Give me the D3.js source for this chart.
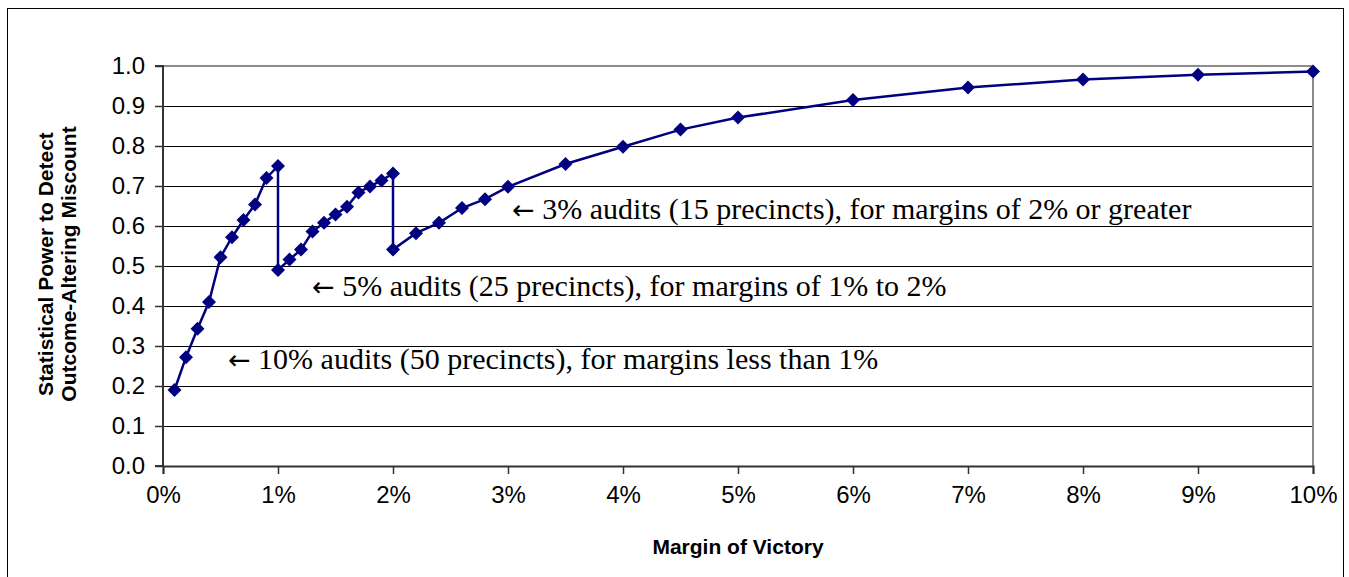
<!DOCTYPE html>
<html>
<head>
<meta charset="utf-8">
<script src="https://cdn.jsdelivr.net/npm/d3@7"></script>
<style>
	body { margin: 0; background: #fff; }
	svg { display: block; }
</style>
</head>
<body>
<div id="chart"></div>
<script>
// margin of victory (%) and statistical power
const margins = [0.1, 0.2, 0.3, 0.4, 0.5, 0.6, 0.7, 0.8, 0.9, 1.0,
	1.0, 1.1, 1.2, 1.3, 1.4, 1.5, 1.6, 1.7, 1.8, 1.9, 2.0,
	2.0, 2.2, 2.4, 2.6, 2.8, 3.0, 3.5, 4.0, 4.5, 5.0, 6, 7, 8, 9, 10];
const power = [0.19, 0.272, 0.343, 0.41, 0.522, 0.572, 0.615, 0.654, 0.72, 0.75,
	0.49, 0.516, 0.541, 0.586, 0.608, 0.629, 0.648, 0.684, 0.699, 0.714, 0.731,
	0.541, 0.582, 0.608, 0.645, 0.667, 0.698, 0.755, 0.798, 0.841, 0.871, 0.915, 0.946, 0.966, 0.978, 0.986];

const xTicks = [0, 1, 2, 3, 4, 5, 6, 7, 8, 9, 10];
const yTicks = [0, 0.1, 0.2, 0.3, 0.4, 0.5, 0.6, 0.7, 0.8, 0.9, 1.0];

const notes = [
	{ x: 3.035, y: 0.617, text: "3% audits (15 precincts), for margins of 2% or greater" },
	{ x: 1.296, y: 0.425, text: "5% audits (25 precincts), for margins of 1% to 2%" },
	{ x: 0.565, y: 0.243, text: "10% audits (50 precincts), for margins less than 1%" }
];

const width = 1349, height = 577;
const plot = { left: 163, right: 1313, top: 66, bottom: 466 };

const svg = d3.select("#chart")
	.append("svg")
	.attr("width", width)
	.attr("height", height);

// outer frame
svg.append("rect")
	.attr("x", 7.5).attr("y", 8.5)
	.attr("width", 1336).attr("height", 600)
	.attr("fill", "none")
	.attr("stroke", "#000")
	.attr("stroke-width", 1);

const x = d3.scaleLinear().domain([0, 10]).range([plot.left, plot.right]);
const y = d3.scaleLinear().domain([0, 1]).range([plot.bottom, plot.top]);

// gridlines
svg.append("g")
	.selectAll("line")
	.data(yTicks.filter(d => d > 0 && d < 1))
	.join("line")
	.attr("x1", plot.left).attr("x2", plot.right)
	.attr("y1", d => Math.round(y(d)) + 0.5).attr("y2", d => Math.round(y(d)) + 0.5)
	.attr("stroke", "#000")
	.attr("stroke-width", 1);

// plot area border top/right (gray)
svg.append("path")
	.attr("d", `M${plot.left},${plot.top}H${plot.right}V${plot.bottom}`)
	.attr("fill", "none")
	.attr("stroke", "#8c8c8c")
	.attr("stroke-width", 2);

// y axis
const yAxis = svg.append("g")
	.attr("transform", `translate(${plot.left},0)`)
	.call(d3.axisLeft(y).tickValues(yTicks).tickFormat(d3.format(".1f")).tickSize(8).tickPadding(10));

// x axis
const xAxis = svg.append("g")
	.attr("transform", `translate(0,${plot.bottom})`)
	.call(d3.axisBottom(x).tickValues(xTicks).tickFormat(d => d + "%").tickSize(8).tickPadding(12));

[yAxis, xAxis].forEach(g => {
	g.select(".domain").attr("stroke", "#333").attr("stroke-width", 2);
	g.selectAll(".tick line").attr("stroke", "#333").attr("stroke-width", 1.5);
	g.selectAll("text")
		.attr("fill", "#000")
		.attr("font-family", "Arial, 'Liberation Sans', sans-serif")
		.attr("font-size", 24);
});
yAxis.select(".domain").attr("d", `M-8,${plot.top}H0V${plot.bottom}H-8`);

// series line
const line = d3.line().x((d, i) => x(margins[i])).y(d => y(d));
svg.append("path")
	.datum(power)
	.attr("d", line)
	.attr("fill", "none")
	.attr("stroke", "#000080")
	.attr("stroke-width", 2.5);

// diamond markers
svg.append("g")
	.selectAll("path")
	.data(power)
	.join("path")
	.attr("transform", (d, i) => `translate(${x(margins[i])},${y(d)})`)
	.attr("d", "M0,-7L7,0L0,7L-7,0Z")
	.attr("fill", "#000080");

// annotations
const note = svg.append("g")
	.selectAll("text")
	.data(notes)
	.join("text")
	.attr("x", d => x(d.x))
	.attr("y", d => y(d.y))
	.attr("fill", "#000");
note.append("tspan")
	.attr("font-family", "'DejaVu Sans', sans-serif")
	.attr("font-size", 27)
	.text("\u2190");
note.append("tspan")
	.attr("font-family", "'Times New Roman', 'Liberation Serif', serif")
	.attr("font-size", 30)
	.text(d => " " + d.text);

// axis titles
svg.append("text")
	.attr("x", (plot.left + plot.right) / 2)
	.attr("y", 554)
	.attr("text-anchor", "middle")
	.attr("font-family", "Arial, 'Liberation Sans', sans-serif")
	.attr("font-weight", "bold")
	.attr("font-size", 21)
	.text("Margin of Victory");

const yTitle = svg.append("text")
	.attr("transform", "translate(0,264) rotate(-90)")
	.attr("text-anchor", "middle")
	.attr("font-family", "Arial, 'Liberation Sans', sans-serif")
	.attr("font-weight", "bold")
	.attr("font-size", 21);
yTitle.append("tspan").attr("x", 0).attr("y", 53).text("Statistical Power to Detect");
yTitle.append("tspan").attr("x", 0).attr("y", 76).text("Outcome-Altering Miscount");
</script>
</body>
</html>
